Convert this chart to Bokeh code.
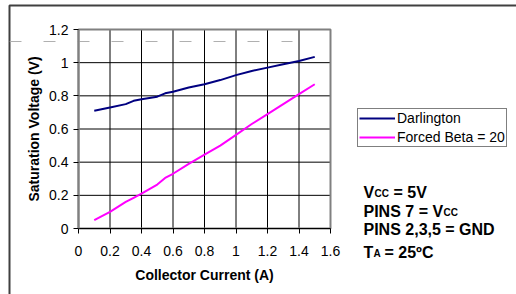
from bokeh.plotting import figure
from bokeh.models import Range1d, FixedTicker, Legend, LegendItem, Label, LinearAxis
from bokeh.embed import file_html
from bokeh.resources import INLINE

# ---- data ----
current = [0.1, 0.2, 0.3, 0.35, 0.4, 0.5, 0.55, 0.6, 0.7, 0.8, 0.9, 1.0, 1.1, 1.2, 1.3, 1.4, 1.5]
darlington = [0.71, 0.73, 0.75, 0.77, 0.78, 0.795, 0.815, 0.825, 0.85, 0.87, 0.895, 0.925, 0.95, 0.97, 0.99, 1.01, 1.035]
forced_beta = [0.05, 0.10, 0.16, 0.185, 0.21, 0.265, 0.305, 0.33, 0.39, 0.445, 0.50, 0.565, 0.63, 0.69, 0.75, 0.81, 0.87]

x_ticks = [0, 0.2, 0.4, 0.6, 0.8, 1.0, 1.2, 1.4, 1.6]
x_tick_labels = ["0", "0.2", "0.4", "0.6", "0.8", "1", "1.2", "1.4", "1.6"]
y_ticks = [0, 0.2, 0.4, 0.6, 0.8, 1.0, 1.2]
y_tick_labels = ["0", "0.2", "0.4", "0.6", "0.8", "1", "1.2"]

series_names = ["Darlington", "Forced Beta = 20"]
series_colors = ["#000080", "#FF00FF"]

FONT = "Liberation Sans"

# ---- layout (pixels) ----
W, H = 530, 310            # figure larger than window; right/bottom edges fall outside the view
FL, FT = 9, 5              # frame (outer chart border) left / top
PL, PR, PT, PB = 78, 330, 29, 228   # plot area in page pixels
kx = (PR - PL) / (x_ticks[-1] - x_ticks[0])
ky = (PB - PT) / (y_ticks[-1] - y_ticks[0])
x0 = x_ticks[0] - (PL - FL) / kx
x1 = x0 + (W - FL) / kx
y1 = y_ticks[-1] + (PT - FT) / ky
y0 = y1 - (H - FT) / ky

p = figure(width=W, height=H, output_backend="svg", toolbar_location=None,
           x_range=Range1d(x0, x1), y_range=Range1d(y0, y1),
           x_axis_location=None, y_axis_location=None,
           min_border_left=FL, min_border_top=FT, min_border_right=0, min_border_bottom=0)
p.background_fill_color = "white"
p.border_fill_color = "white"
p.outline_line_color = "#404040"
p.outline_line_width = 2
p.xgrid.visible = False
p.ygrid.visible = False

# grid lines inside the plot area
xs_in = x_ticks[1:-1]
ys_in = y_ticks[1:-1]
p.segment(x0=xs_in, y0=[y_ticks[0]] * len(xs_in), x1=xs_in, y1=[y_ticks[-1]] * len(xs_in),
          line_color="black", line_width=1)
p.segment(x0=[x_ticks[0]] * len(ys_in), y0=ys_in, x1=[x_ticks[-1]] * len(ys_in), y1=ys_in,
          line_color="black", line_width=1)

# plot-area border (grey top/right)
p.quad(left=[x_ticks[0]], right=[x_ticks[-1]], bottom=[y_ticks[0]], top=[y_ticks[-1]],
       fill_color=None, line_color="#808080", line_width=2)

# faint dashed artifact line near the top
dash_y = y_ticks[-1] - (41 - PT) / ky
p.segment(x0=[x0], y0=[dash_y], x1=[x_ticks[0] + (292 - PL) / kx], y1=[dash_y],
          line_color="#b0b0b0", line_width=1, line_dash="12 22")

# axes fixed at the plot-area edges
xaxis = LinearAxis(fixed_location=y_ticks[0], bounds=(x_ticks[0], x_ticks[-1]),
                   ticker=FixedTicker(ticks=x_ticks), axis_label="Collector Current (A)")
yaxis = LinearAxis(fixed_location=x_ticks[0], bounds=(y_ticks[0], y_ticks[-1]),
                   ticker=FixedTicker(ticks=y_ticks), axis_label="Saturation Voltage (V)")
xaxis.major_label_overrides = dict(zip(x_ticks, x_tick_labels))
yaxis.major_label_overrides = dict(zip(y_ticks, y_tick_labels))
for ax in (xaxis, yaxis):
    ax.major_tick_out = 5
    ax.major_tick_in = 0
    ax.minor_tick_line_color = None
    ax.major_tick_line_color = "black"
    ax.major_label_text_font = FONT
    ax.major_label_text_font_size = "14px"
    ax.major_label_text_color = "black"
    ax.axis_label_text_font = FONT
    ax.axis_label_text_font_size = "14px"
    ax.axis_label_text_font_style = "bold"
    ax.axis_label_text_color = "black"
xaxis.axis_line_color = "black"
yaxis.axis_line_color = "#808080"
yaxis.axis_line_width = 2
xaxis.major_label_standoff = 12
yaxis.major_label_standoff = 5
xaxis.axis_label_standoff = 8
yaxis.axis_label_standoff = 4
p.add_layout(xaxis, "below")
p.add_layout(yaxis, "left")

# series
r1 = p.line(current, darlington, line_color=series_colors[0], line_width=2)
r2 = p.line(current, forced_beta, line_color=series_colors[1], line_width=2)

FB = FT + (H - FT)  # frame bottom in page pixels

legend = Legend(items=[LegendItem(label=series_names[0], renderers=[r1]),
                       LegendItem(label=series_names[1], renderers=[r2])],
                location=(357 - FL, FB - 147), orientation="vertical",
                border_line_color="black", border_line_width=1,
                background_fill_color="white", background_fill_alpha=1,
                label_text_font=FONT, label_text_font_size="14px",
                label_text_color="black",
                glyph_width=36, glyph_height=16, label_height=16,
                label_standoff=2, padding=1, spacing=3, margin=0)
p.add_layout(legend, "center")

def note(text, px, baseline_py, size):
    p.add_layout(Label(x=px - FL, y=FB - baseline_py, x_units="screen", y_units="screen",
                       text=text, text_font=FONT, text_font_size=size,
                       text_font_style="bold",
                       text_color="black", text_align="left", text_baseline="alphabetic"))

note("V", 363, 192, "16px")
note("CC", 374, 193, "10px")
note("= 5V", 393, 192, "16px")
note("PINS 7 =", 363, 211, "16px")
note("V", 432, 211, "16px")
note("CC", 443, 212, "10px")
note("PINS 2,3,5 = GND", 363, 229, "16px")
note("T", 363, 252, "16px")
note("A", 373, 253, "10px")
note("= 25ºC", 384, 252, "16px")

html = file_html(p, INLINE)
html = html.replace("<head>", "<head><style>html,body{overflow:hidden;}</style>", 1)
open("out.html", "w").write(html)
